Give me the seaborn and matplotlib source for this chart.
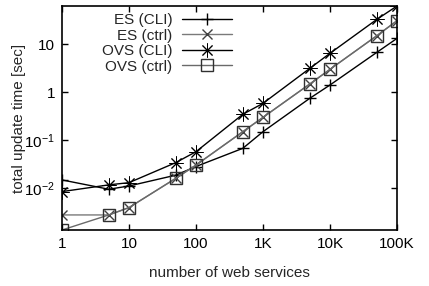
import matplotlib
matplotlib.use('Agg')
import matplotlib.pyplot as plt
import seaborn as sns

# number of web services on the x axis
n_services = [1, 5, 10, 50, 100, 500, 1000, 5000, 10000, 50000, 100000]

# total update time [sec] per series
es_cli = [0.0147, 0.0094, 0.011, 0.0185, 0.028, 0.067, 0.149, 0.74, 1.40, 6.7, 13.1]
es_ctrl = [0.00274, 0.00274, 0.0039, 0.0159, 0.030, 0.149, 0.296, 1.47, 2.97, 14.9, 30.6]
ovs_cli = [0.0084, 0.0116, 0.0129, 0.0338, 0.057, 0.343, 0.58, 3.11, 6.4, 32.6, 62.0]
ovs_ctrl = [0.00133, 0.00274, 0.0039, 0.0159, 0.030, 0.149, 0.296, 1.47, 2.97, 14.9, 30.6]

series_names = ['ES (CLI)', 'ES (ctrl)', 'OVS (CLI)', 'OVS (ctrl)']

x_ticks = [1, 10, 100, 1000, 10000, 100000]
x_tick_labels = ['1', '10', '100', '1K', '10K', '100K']
y_ticks = [0.01, 0.1, 1, 10]
y_tick_labels = ['$10^{-2}$', '$10^{-1}$', '1', '10']

sns.set_style('ticks')
plt.rcParams['font.family'] = ['Liberation Sans', 'DejaVu Sans']
plt.rcParams['mathtext.fontset'] = 'custom'
plt.rcParams['mathtext.rm'] = 'Liberation Sans'
plt.rcParams['mathtext.it'] = 'Liberation Sans:italic'
plt.rcParams['mathtext.default'] = 'regular'

fig = plt.figure(figsize=(4.29, 2.86), dpi=100)
ax = fig.add_axes([62 / 429, 1 - 230 / 286, 335 / 429, 224 / 286])

styles = [
    dict(color='black', marker='+', markersize=9, markeredgecolor='black',
         markeredgewidth=1),
    dict(color='#7a7a7a', marker='x', markersize=7, markeredgecolor='#404040',
         markeredgewidth=1),
    dict(color='black', marker=(8, 2, 0), markersize=10, markeredgecolor='black',
         markeredgewidth=0.7),
    dict(color='#6a6a6a', marker='s', markersize=8, markerfacecolor='none',
         markeredgecolor='#303030', markeredgewidth=1),
]
all_values = [es_cli, es_ctrl, ovs_cli, ovs_ctrl]

for name, vals, st in zip(series_names, all_values, styles):
    sns.lineplot(x=n_services, y=vals, ax=ax, label=name, linewidth=1, **st)

ax.set_xscale('log')
ax.set_yscale('log')
ax.set_xlim(1, 100000)
ax.set_ylim(min(ovs_ctrl), max(ovs_cli))
ax.set_xticks(x_ticks)
ax.set_xticklabels(x_tick_labels)
ax.set_yticks(y_ticks)
ax.set_yticklabels(y_tick_labels)
ax.minorticks_off()

ax.tick_params(direction='in', length=4, width=1, top=True, right=True,
               labelsize=11, colors='black')
ax.tick_params(axis='x', pad=5)
ax.tick_params(axis='y', pad=5)
for s in ax.spines.values():
    s.set_linewidth(1.2)
    s.set_color('black')

ax.set_xlabel('number of web services', fontsize=11, labelpad=11)
ax.set_ylabel('total update time [sec]', fontsize=11, labelpad=-1)

ax.legend(loc='upper right', bbox_to_anchor=(232 / 429, 1 - 13 / 286),
          bbox_transform=fig.transFigure, frameon=False, markerfirst=False,
          handlelength=3.3, handletextpad=0.6, labelspacing=0.1,
          borderpad=0, borderaxespad=0, fontsize=11, numpoints=1)

fig.savefig('out.png', dpi=100)
